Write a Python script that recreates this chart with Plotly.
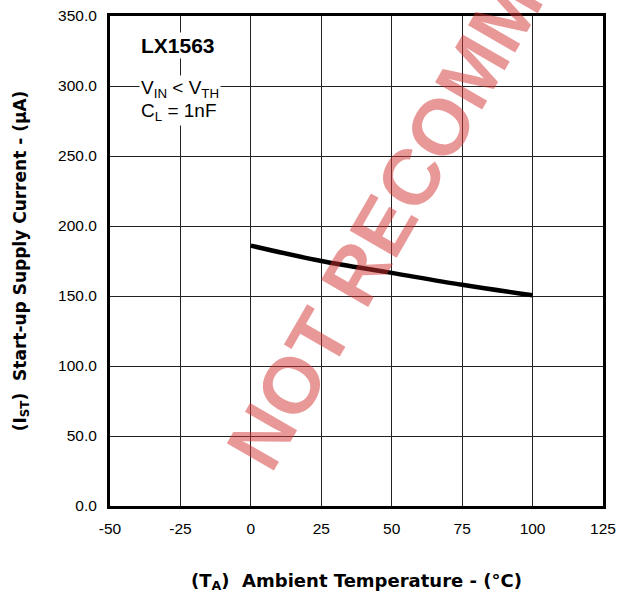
import plotly.graph_objects as go

temperature = [0, 25, 50, 75, 100]
startup_current = [186.0, 175.0, 166.5, 158.0, 150.5]

x_ticks = [-50, -25, 0, 25, 50, 75, 100, 125]
y_ticks = [0, 50, 100, 150, 200, 250, 300, 350]
y_tick_text = [f"{v:.1f}" for v in y_ticks]

fig = go.Figure()
fig.add_trace(go.Scatter(
    x=temperature, y=startup_current, mode="lines",
    line=dict(color="black", width=4.5, shape="spline"),
    showlegend=False,
))

tick_font = dict(family="Liberation Sans, Arial, sans-serif", size=15.5, color="black")
axis_common = dict(
    showgrid=True, gridcolor="#222", gridwidth=1,
    showline=True, linecolor="black", linewidth=3, mirror=True,
    zeroline=False, ticks="", tickfont=tick_font, automargin=False,
    ticklabeloverflow="allow",
)

fig.update_xaxes(range=[-50, 125], tickvals=x_ticks, ticktext=[str(v) for v in x_ticks],
                 title=dict(text="(T<sub>A</sub>)  Ambient Temperature - (°C)",
                            font=dict(family="DejaVu Sans, sans-serif", size=18, color="black", weight="bold"),
                            standoff=39),
                 ticklabelstandoff=6,
                 **axis_common)
fig.update_yaxes(range=[0, 350], tickvals=y_ticks, ticktext=y_tick_text,
                 title=dict(text="(I<sub>ST</sub>)  Start-up Supply Current - (µA)",
                            font=dict(family="DejaVu Sans, sans-serif", size=17, color="black", weight="bold"),
                            standoff=28),
                 ticklabelstandoff=7,
                 **axis_common)

label_font = dict(family="Liberation Sans, Arial, sans-serif", size=19, color="black")
fig.add_annotation(xref="paper", yref="paper", x=0.058, y=0.94, xanchor="left", yanchor="middle",
                   text="<b>LX1563</b>", showarrow=False, bgcolor="white",
                   font=dict(family="Liberation Sans, Arial, sans-serif", size=21, color="black"))
fig.add_annotation(xref="paper", yref="paper", x=0.058, y=0.852, xanchor="left", yanchor="middle",
                   text="V<sub>IN</sub> &lt; V<sub>TH</sub>", showarrow=False, bgcolor="white",
                   font=label_font)
fig.add_annotation(xref="paper", yref="paper", x=0.058, y=0.805, xanchor="left", yanchor="middle",
                   text="C<sub>L</sub> = 1nF", showarrow=False, bgcolor="white",
                   font=label_font)

# watermark
fig.add_annotation(xref="paper", yref="paper", x=0.696, y=0.82, xanchor="center", yanchor="middle",
                   text="<b>NOT RECOMMENDED</b>", showarrow=False, textangle=-60,
                   font=dict(family="Liberation Sans, Arial, sans-serif", size=79, color="rgba(212,50,50,0.5)"))

fig.update_layout(
    width=617, height=598,
    margin=dict(l=110, r=14, t=16, b=92),
    paper_bgcolor="white", plot_bgcolor="white",
)

fig.write_html("out.html", config={"displayModeBar": False},
               post_script="document.body.style.margin='0';document.body.style.overflow='hidden';")
